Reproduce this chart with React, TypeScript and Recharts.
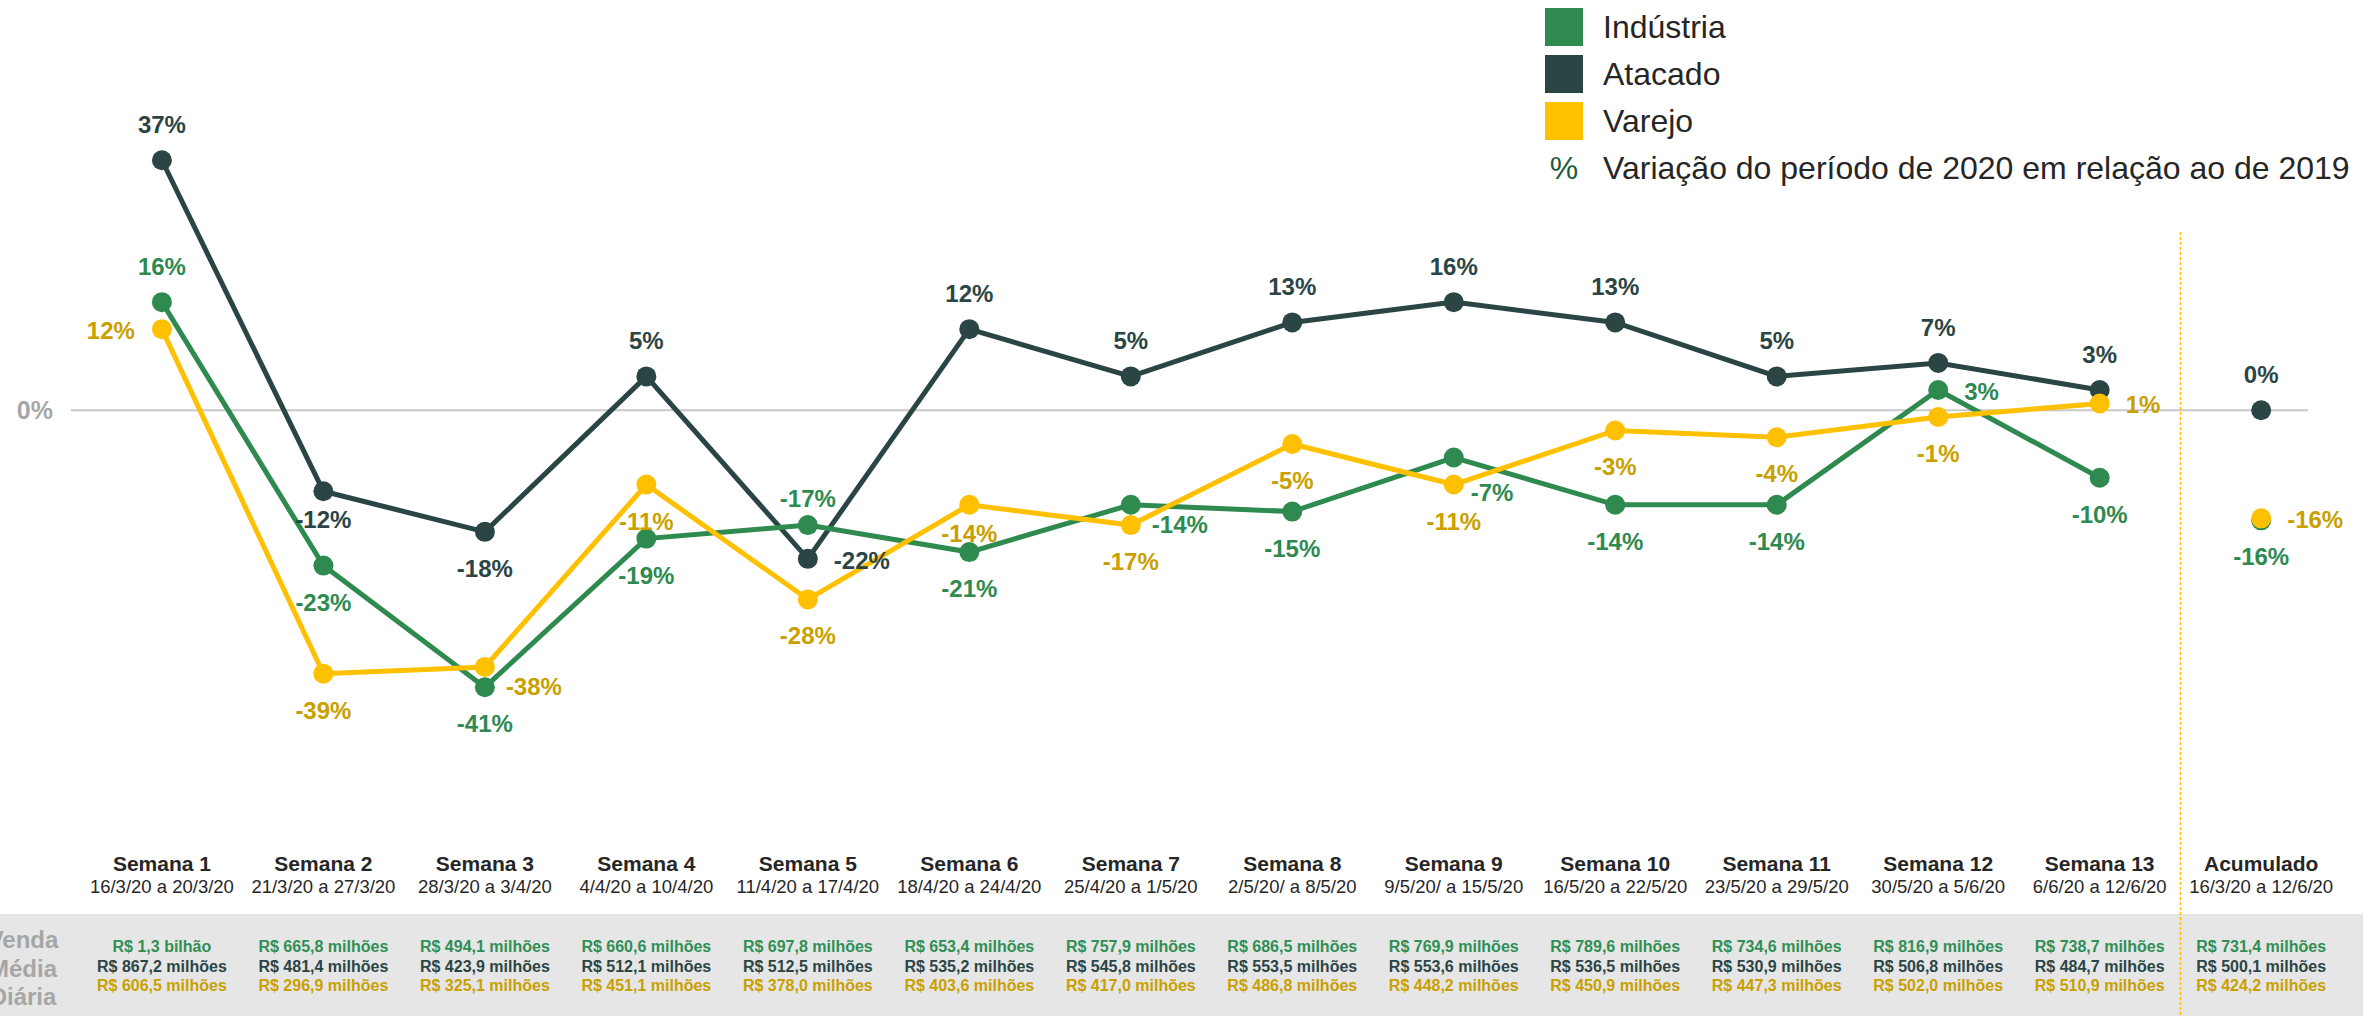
import React from 'react';
import { LineChart, Line, XAxis, YAxis, ReferenceLine, LabelList } from 'recharts';

// semanas e períodos (eixo X + tabela)
const semanas = ['Semana 1', 'Semana 2', 'Semana 3', 'Semana 4', 'Semana 5', 'Semana 6', 'Semana 7', 'Semana 8', 'Semana 9', 'Semana 10', 'Semana 11', 'Semana 12', 'Semana 13', 'Acumulado'];
const periodos = ['16/3/20 a 20/3/20', '21/3/20 a 27/3/20', '28/3/20 a 3/4/20', '4/4/20 a 10/4/20', '11/4/20 a 17/4/20', '18/4/20 a 24/4/20', '25/4/20 a 1/5/20', '2/5/20/ a 8/5/20', '9/5/20/ a 15/5/20', '16/5/20 a 22/5/20', '23/5/20 a 29/5/20', '30/5/20 a 5/6/20', '6/6/20 a 12/6/20', '16/3/20 a 12/6/20'];

// variação % 2020 x 2019, semanas 1 a 13
const industria = [16, -23, -41, -19, -17, -21, -14, -15, -7, -14, -14, 3, -10];
const atacado = [37, -12, -18, 5, -22, 12, 5, 13, 16, 13, 5, 7, 3];
const varejo = [12, -39, -38, -11, -28, -14, -17, -5, -11, -3, -4, -1, 1];
// acumulado: Indústria, Atacado, Varejo
const acumulado = [-16.3, 0, -16];

// venda média diária
const vendaIndustria = ['R$ 1,3 bilhão', 'R$ 665,8 milhões', 'R$ 494,1 milhões', 'R$ 660,6 milhões', 'R$ 697,8 milhões', 'R$ 653,4 milhões', 'R$ 757,9 milhões', 'R$ 686,5 milhões', 'R$ 769,9 milhões', 'R$ 789,6 milhões', 'R$ 734,6 milhões', 'R$ 816,9 milhões', 'R$ 738,7 milhões', 'R$ 731,4 milhões'];
const vendaAtacado = ['R$ 867,2 milhões', 'R$ 481,4 milhões', 'R$ 423,9 milhões', 'R$ 512,1 milhões', 'R$ 512,5 milhões', 'R$ 535,2 milhões', 'R$ 545,8 milhões', 'R$ 553,5 milhões', 'R$ 553,6 milhões', 'R$ 536,5 milhões', 'R$ 530,9 milhões', 'R$ 506,8 milhões', 'R$ 484,7 milhões', 'R$ 500,1 milhões'];
const vendaVarejo = ['R$ 606,5 milhões', 'R$ 296,9 milhões', 'R$ 325,1 milhões', 'R$ 451,1 milhões', 'R$ 378,0 milhões', 'R$ 403,6 milhões', 'R$ 417,0 milhões', 'R$ 486,8 milhões', 'R$ 448,2 milhões', 'R$ 450,9 milhões', 'R$ 447,3 milhões', 'R$ 502,0 milhões', 'R$ 510,9 milhões', 'R$ 424,2 milhões'];

// onde fica o rótulo de cada ponto
const posIndustria = ['above', 'below', 'below', 'below', 'aboveNear', 'below', 'rightLow', 'below', 'belowRight', 'below', 'below', 'right', 'below', 'below'];
const posAtacado = ['above', 'belowNear', 'below', 'above', 'right', 'above', 'above', 'above', 'above', 'above', 'above', 'above', 'above', 'above'];
const posVarejo = ['left', 'below', 'rightLow', 'below', 'below', 'belowNear', 'below', 'below', 'below', 'below', 'below', 'below', 'right', 'right'];

const FONT = '"Liberation Sans", Arial, sans-serif';
const VERDE = '#2e8a4f';
const ESCURO = '#2b4545';
const AMARELO = '#ffc000';
const DOURADO = '#c9a000';
const TEXTO = '#262626';

const offsets: any = {
  above: ['middle', 0, -27],
  aboveNear: ['middle', 0, -18],
  below: ['middle', 0, 45],
  belowNear: ['middle', 0, 37],
  right: ['start', 26, 10],
  rightLow: ['start', 21, 28],
  belowRight: ['start', 17, 43],
  left: ['end', -27, 10],
};

const data = semanas.map((s, i) => ({
  x: i,
  industria: i < 13 ? industria[i] : null,
  atacado: i < 13 ? atacado[i] : null,
  varejo: i < 13 ? varejo[i] : null,
  industriaAc: i === 13 ? acumulado[0] : null,
  atacadoAc: i === 13 ? acumulado[1] : null,
  varejoAc: i === 13 ? acumulado[2] : null,
}));

const makeLabel = (pos: string[], color: string) => (props: any) => {
  const { value, index } = props;
  if (value === null || value === undefined) return null;
  const x = props.x ?? props.viewBox?.x;
  const y = props.y ?? props.viewBox?.y;
  const [anchor, dx, dy] = offsets[pos[index]] || offsets.above;
  return (
    <text x={x + dx} y={y + dy} textAnchor={anchor} fill={color} fontFamily={FONT} fontSize={24} fontWeight="bold">
      {`${Math.round(value)}%`}
    </text>
  );
};

const TabelaTick = (props: any) => {
  const { x, y, payload } = props;
  const i = payload.value;
  return (
    <g fontFamily={FONT} textAnchor="middle">
      {i === 0 && (
        <g fill="#a6a6a6" fontSize={24} fontWeight="bold">
          <text x={23} y={948}>Venda</text>
          <text x={23} y={977}>Média</text>
          <text x={23} y={1005}>Diária</text>
        </g>
      )}
      <text x={x} y={y + 123} fill={TEXTO} fontSize={21} fontWeight="bold">{semanas[i]}</text>
      <text x={x} y={y + 145} fill={TEXTO} fontSize={18.5}>{periodos[i]}</text>
      <text x={x} y={y + 204} fill="#2f8f55" fontSize={16} fontWeight="bold">{vendaIndustria[i]}</text>
      <text x={x} y={y + 224} fill={ESCURO} fontSize={16} fontWeight="bold">{vendaAtacado[i]}</text>
      <text x={x} y={y + 243} fill={DOURADO} fontSize={16} fontWeight="bold">{vendaVarejo[i]}</text>
    </g>
  );
};

const legenda = [
  { nome: 'Indústria', cor: VERDE },
  { nome: 'Atacado', cor: ESCURO },
  { nome: 'Varejo', cor: AMARELO },
];

export default function App() {
  return (
    <div style={{ position: 'absolute', left: 0, top: 0, width: 2377, height: 1016, background: '#fff', fontFamily: FONT }}>
      {/* faixa cinza da tabela */}
      <div style={{ position: 'absolute', left: 0, top: 914, width: 2363, height: 102, background: '#e6e6e6' }} />

      {/* legenda */}
      {legenda.map((l, i) => (
        <div key={l.nome} style={{ position: 'absolute', left: 1545, top: 8 + i * 47, height: 38, display: 'flex', alignItems: 'center' }}>
          <div style={{ width: 38, height: 38, background: l.cor }} />
          <span style={{ marginLeft: 20, fontSize: 32, lineHeight: '38px', color: TEXTO }}>{l.nome}</span>
        </div>
      ))}
      <div style={{ position: 'absolute', left: 1545, top: 149, height: 38, display: 'flex', alignItems: 'center' }}>
        <span style={{ width: 38, textAlign: 'center', fontSize: 32, lineHeight: '38px', color: '#1f5c38' }}>%</span>
        <span style={{ marginLeft: 20, fontSize: 32, lineHeight: '38px', color: TEXTO }}>Variação do período de 2020 em relação ao de 2019</span>
      </div>

      <div style={{ position: 'absolute', left: 0, top: 0 }}>
        <LineChart width={2377} height={1016} data={data} margin={{ top: 140, right: 69, bottom: 0, left: 0 }}>
          <XAxis
            type="number"
            dataKey="x"
            domain={[-0.563, 13.29]}
            allowDataOverflow
            ticks={semanas.map((_, i) => i)}
            interval={0}
            height={268}
            axisLine={false}
            tickLine={false}
            tickSize={0}
            tickMargin={0}
            tick={<TabelaTick />}
          />
          <YAxis
            domain={[-50, 40]}
            allowDataOverflow
            ticks={[0]}
            width={71}
            axisLine={false}
            tickLine={false}
            tickSize={0}
            tickMargin={18}
            tickFormatter={(v) => `${v}%`}
            tick={{ fill: '#a6a6a6', fontSize: 25, fontWeight: 'bold', fontFamily: FONT }}
          />
          <ReferenceLine y={0} stroke="#c8c8c8" strokeWidth={2} />
          <ReferenceLine
            segment={[{ x: 12.5, y: 26.4 }, { x: 12.5, y: -90 }]}
            ifOverflow="visible"
            stroke={AMARELO}
            strokeWidth={1.5}
            strokeDasharray="3 2"
          />

          <Line dataKey="atacado" stroke={ESCURO} strokeWidth={5} dot={{ r: 10, fill: ESCURO, stroke: ESCURO, strokeWidth: 0 }} activeDot={false} isAnimationActive={false}>
            <LabelList dataKey="atacado" content={makeLabel(posAtacado, ESCURO)} />
          </Line>
          <Line dataKey="industria" stroke={VERDE} strokeWidth={5} dot={{ r: 10, fill: VERDE, stroke: VERDE, strokeWidth: 0 }} activeDot={false} isAnimationActive={false}>
            <LabelList dataKey="industria" content={makeLabel(posIndustria, VERDE)} />
          </Line>
          <Line dataKey="varejo" stroke={AMARELO} strokeWidth={5} dot={{ r: 10, fill: AMARELO, stroke: AMARELO, strokeWidth: 0 }} activeDot={false} isAnimationActive={false}>
            <LabelList dataKey="varejo" content={makeLabel(posVarejo, DOURADO)} />
          </Line>

          <Line dataKey="atacadoAc" stroke="none" dot={{ r: 10, fill: ESCURO, stroke: ESCURO, strokeWidth: 0 }} activeDot={false} isAnimationActive={false}>
            <LabelList dataKey="atacadoAc" content={makeLabel(posAtacado, ESCURO)} />
          </Line>
          <Line dataKey="industriaAc" stroke="none" dot={{ r: 10, fill: VERDE, stroke: VERDE, strokeWidth: 0 }} activeDot={false} isAnimationActive={false}>
            <LabelList dataKey="industriaAc" content={makeLabel(posIndustria, VERDE)} />
          </Line>
          <Line dataKey="varejoAc" stroke="none" dot={{ r: 10, fill: AMARELO, stroke: AMARELO, strokeWidth: 0 }} activeDot={false} isAnimationActive={false}>
            <LabelList dataKey="varejoAc" content={makeLabel(posVarejo, DOURADO)} />
          </Line>
        </LineChart>
      </div>
    </div>
  );
}
